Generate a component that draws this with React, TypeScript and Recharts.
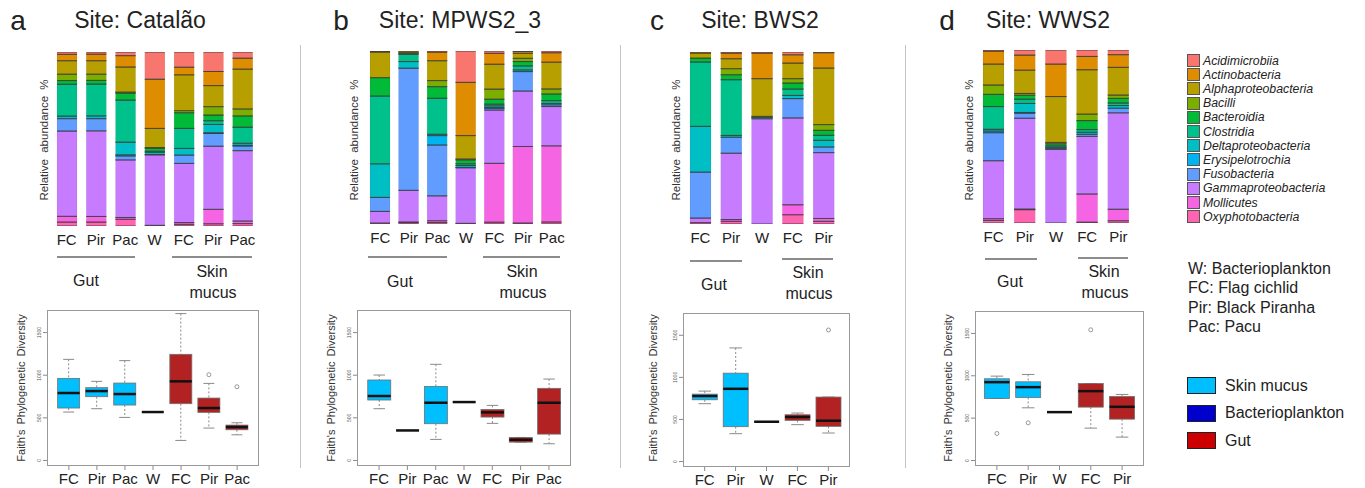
import React from 'react';
import { BarChart, Bar, XAxis, YAxis, ComposedChart } from 'recharts';

const taxa = [
  'Acidimicrobiia', 'Actinobacteria', 'Alphaproteobacteria', 'Bacilli', 'Bacteroidia', 'Clostridia',
  'Deltaproteobacteria', 'Erysipelotrochia', 'Fusobacteria', 'Gammaproteobacteria', 'Mollicutes', 'Oxyphotobacteria',
];
const taxaColors = [
  '#F8766D', '#DE8C00', '#B79F00', '#7CAE00', '#00BA38', '#00C08B',
  '#00BFC4', '#00B4F0', '#619CFF', '#C77CFF', '#F564E3', '#FF64B0',
];

// Site: Catalão
const catalaoGroups = ['FC', 'Pir', 'Pac', 'W', 'FC', 'Pir', 'Pac'];
const catalaoTissue = ['gut', 'gut', 'gut', 'water', 'skin', 'skin', 'skin'];
const catalaoAbundance = [
  [1.3, 3.7, 7.7, 3.7, 2.1, 18.3, 1.5, 0, 7.1, 49.0, 3.3, 2.3],
  [1.2, 3.8, 7.7, 3.6, 2.1, 18.3, 1.6, 0, 7.0, 49.2, 3.2, 2.3],
  [2.1, 6.5, 14.4, 0.6, 4.0, 24.2, 7.3, 0.6, 2.3, 33.1, 1.0, 3.9],
  [15.6, 28.3, 11.0, 0.4, 1.7, 0.6, 1.3, 0, 0.2, 40.5, 0, 0.4],
  [8.7, 4.4, 20.6, 1.2, 9.0, 11.5, 3.8, 0, 4.8, 34.0, 1.0, 1.0],
  [11.2, 8.1, 12.1, 4.8, 3.3, 2.1, 4.8, 0.4, 7.3, 36.3, 8.3, 1.3],
  [3.5, 6.3, 22.9, 4.0, 6.5, 9.2, 1.2, 0.4, 2.7, 40.4, 1.5, 1.4],
];
// [whisker low, Q1, median, Q3, whisker high]
const catalaoFaith = [
  [568, 615, 791, 963, 1186],
  [607, 748, 814, 854, 928],
  [505, 650, 779, 908, 1171],
  [568, 568, 568, 568, 568],
  [235, 666, 928, 1245, 1723],
  [380, 564, 615, 732, 904],
  [301, 360, 392, 415, 442],
];
const catalaoOutliers = [[], [], [], [], [], [1006], [865]];

// Site: MPWS2_3
const mpwsGroups = ['FC', 'Pir', 'Pac', 'W', 'FC', 'Pir', 'Pac'];
const mpwsTissue = ['gut', 'gut', 'gut', 'water', 'skin', 'skin', 'skin'];
const mpwsAbundance = [
  [0.2, 0.4, 14.8, 0, 10.6, 39.2, 19.4, 0, 8.1, 6.7, 0, 0.6],
  [0, 0.6, 0.7, 0, 0.6, 4.2, 3.8, 0, 70.6, 18.3, 0.4, 0.8],
  [0.6, 5.0, 11.5, 3.5, 6.7, 20.8, 0.8, 5.4, 29.4, 14.4, 1.0, 0.9],
  [18.1, 30.8, 13.5, 0.5, 2.3, 1.0, 1.1, 0, 0.2, 32.1, 0, 0.4],
  [1.3, 6.3, 14.4, 5.8, 2.9, 1.0, 1.0, 0.4, 1.0, 30.8, 34.0, 1.1],
  [0.3, 1.0, 2.9, 1.9, 2.5, 2.3, 1.0, 0, 11.2, 32.1, 44.2, 0.6],
  [1.0, 5.4, 15.5, 2.9, 3.9, 1.6, 0.8, 0, 1.0, 22.7, 44.0, 1.2],
];
const mpwsFaith = [
  [607, 709, 756, 944, 1002],
  [352, 352, 352, 352, 352],
  [247, 431, 677, 869, 1128],
  [685, 685, 685, 685, 685],
  [435, 509, 564, 599, 646],
  [215, 215, 243, 270, 270],
  [196, 309, 677, 846, 955],
];
const mpwsOutliers = [[], [], [], [], [], [], []];

// Site: BWS2
const bwsGroups = ['FC', 'Pir', 'W', 'FC', 'Pir'];
const bwsTissue = ['gut', 'gut', 'water', 'skin', 'skin'];
const bwsAbundance = [
  [0, 0.6, 2.9, 0, 2.3, 37.4, 26.6, 0, 26.7, 2.7, 0, 0.8],
  [0.6, 3.3, 5.8, 3.5, 2.9, 32.4, 1.0, 0, 9.3, 38.6, 1.0, 1.6],
  [0.6, 14.9, 21.9, 0, 0.6, 0, 0.8, 0, 0, 61.2, 0, 0],
  [1.6, 4.8, 9.1, 2.5, 3.5, 3.7, 1.9, 0, 11.2, 50.5, 5.8, 5.4],
  [0.4, 8.9, 32.9, 3.3, 2.9, 2.9, 3.9, 0, 3.3, 38.3, 1.6, 1.6],
];
const bwsFaith = [
  [687, 734, 778, 801, 837],
  [331, 414, 864, 1050, 1350],
  [473, 473, 473, 473, 473],
  [438, 489, 529, 556, 576],
  [339, 418, 485, 766, 766],
];
const bwsOutliers = [[], [], [], [], [1563]];

// Site: WWS2
const wwsGroups = ['FC', 'Pir', 'W', 'FC', 'Pir'];
const wwsTissue = ['gut', 'gut', 'water', 'skin', 'skin'];
const wwsAbundance = [
  [0.6, 7.5, 12.1, 5.4, 7.1, 13.1, 1.0, 1.0, 16.2, 33.5, 1.0, 1.5],
  [2.9, 8.7, 13.5, 1.0, 2.3, 2.5, 5.2, 0.4, 2.9, 52.5, 0.4, 7.7],
  [8.1, 18.8, 26.5, 0.8, 1.2, 0.8, 0.6, 0, 0.6, 42.6, 0, 0],
  [3.7, 7.7, 25.6, 3.8, 5.2, 1.5, 1.2, 0, 1.2, 33.3, 16.3, 0.5],
  [2.7, 7.3, 16.0, 1.9, 2.7, 1.5, 1.5, 0, 2.7, 55.7, 6.7, 1.3],
];
const wwsFaith = [
  [732, 732, 925, 965, 996],
  [622, 744, 866, 929, 1016],
  [571, 571, 571, 571, 571],
  [382, 630, 819, 909, 909],
  [276, 488, 634, 756, 780],
];
const wwsOutliers = [[319], [445], [], [1543], []];

const faithTicks = [0, 500, 1000, 1500];
const abbreviations = ['W: Bacterioplankton', 'FC: Flag cichlid', 'Pir: Black Piranha', 'Pac: Pacu'];
const boxLegend = ['Skin mucus', 'Bacterioplankton', 'Gut'];

const boxFill: Record<string, string> = { gut: '#00BFFF', water: '#0000CD', skin: '#B22222' };
const boxLegendColors = ['#00BFFF', '#0000CD', '#CC0000'];
const FONT = '"Liberation Sans", Arial, Helvetica, sans-serif';

const panels = [
  {
    letter: 'a', letterX: 18, title: 'Site: Catalão', titleX: 140,
    groups: catalaoGroups, tissue: catalaoTissue, abundance: catalaoAbundance, faith: catalaoFaith, outliers: catalaoOutliers,
    bars: { left: 52, top: 52, width: 205, height: 174, size: 20 },
    box: { left: 47, top: 310, width: 212, height: 156 },
    relX: 45, faithX: 21,
    gutLine: [57, 135, 256], skinLine: [172, 252, 256], gutText: [86, 281], skinText: [212, 272],
  },
  {
    letter: 'b', letterX: 341, title: 'Site: MPWS2_3', titleX: 460,
    groups: mpwsGroups, tissue: mpwsTissue, abundance: mpwsAbundance, faith: mpwsFaith, outliers: mpwsOutliers,
    bars: { left: 366, top: 51, width: 200, height: 173, size: 20 },
    box: { left: 357, top: 310, width: 214, height: 156 },
    relX: 355, faithX: 331,
    gutLine: [368, 447, 256], skinLine: [483, 560, 256], gutText: [400, 282], skinText: [522, 272],
  },
  {
    letter: 'c', letterX: 657, title: 'Site: BWS2', titleX: 760,
    groups: bwsGroups, tissue: bwsTissue, abundance: bwsAbundance, faith: bwsFaith, outliers: bwsOutliers,
    bars: { left: 685, top: 52, width: 154, height: 172, size: 21 },
    box: { left: 683, top: 313, width: 167, height: 154 },
    relX: 677, faithX: 653,
    gutLine: [690, 742, 260], skinLine: [782, 833, 258], gutText: [714, 285], skinText: [808, 273],
  },
  {
    letter: 'd', letterX: 947, title: 'Site: WWS2', titleX: 1048,
    groups: wwsGroups, tissue: wwsTissue, abundance: wwsAbundance, faith: wwsFaith, outliers: wwsOutliers,
    bars: { left: 978, top: 50, width: 156, height: 173, size: 21 },
    box: { left: 975, top: 311, width: 169, height: 155 },
    relX: 970, faithX: 948,
    gutLine: [985, 1037, 258], skinLine: [1078, 1128, 257], gutText: [1010, 282], skinText: [1104, 272],
  },
];

const Segment = (props: any) => {
  const { x, y, width, height, fill } = props;
  if (!(height > 0)) return <g />;
  return (
    <g>
      <rect x={x} y={y} width={width} height={height} fill={fill} stroke="rgba(0,0,0,0.12)" strokeWidth={0.5} />
      <line x1={x} x2={x + width} y1={y} y2={y} stroke="#3a3a3a" strokeWidth={0.8} />
      <line x1={x} x2={x + width} y1={y + height} y2={y + height} stroke="#3a3a3a" strokeWidth={0.8} />
    </g>
  );
};

const BoxShape = (props: any) => {
  const { x, y, width, height, payload } = props;
  const [lo, q1, med, q3, hi] = payload.stats as number[];
  const top = Math.min(y, y + height);
  const bottom = Math.max(y, y + height);
  const per = (bottom - top) / hi;
  const py = (v: number) => bottom - v * per;
  const cx = x + width / 2;
  const cap = width / 4;
  return (
    <g>
      <line x1={cx} x2={cx} y1={py(hi)} y2={py(q3)} stroke="#8a8a8a" strokeDasharray="2 2" />
      <line x1={cx} x2={cx} y1={py(q1)} y2={py(lo)} stroke="#8a8a8a" strokeDasharray="2 2" />
      <line x1={cx - cap} x2={cx + cap} y1={py(hi)} y2={py(hi)} stroke="#8a8a8a" />
      <line x1={cx - cap} x2={cx + cap} y1={py(lo)} y2={py(lo)} stroke="#8a8a8a" />
      {q3 > q1 && (
        <rect x={x} y={py(q3)} width={width} height={py(q1) - py(q3)} fill={payload.fill} stroke="#707070" strokeWidth={0.8} />
      )}
      <line x1={x} x2={x + width} y1={py(med)} y2={py(med)} stroke="#111" strokeWidth={2.5} />
      {(payload.out as number[]).map((v, i) => (
        <circle key={i} cx={cx} cy={py(v)} r={2} fill="none" stroke="#808080" strokeWidth={0.8} />
      ))}
    </g>
  );
};

const CatTick = (props: any) => {
  const { x, y, payload, labels, dy } = props;
  return (
    <text x={x} y={y} dy={dy} textAnchor="middle" fontSize={15} fill="#222" fontFamily={FONT}>
      {labels[Number(payload.value)]}
    </text>
  );
};

const FaithTick = (props: any) => {
  const { x, y, payload } = props;
  return (
    <text x={x} y={y} transform={`rotate(-90 ${x} ${y})`} textAnchor="middle" fontSize={5} fill="#555" fontFamily={FONT}>
      {payload.value}
    </text>
  );
};

const Centered = ({ x, y, size, children, rotate, style }: any) => (
  <div
    style={{
      position: 'absolute', left: x, top: y, whiteSpace: 'nowrap', fontSize: size, color: '#222', lineHeight: 1,
      transform: `translate(-50%, -50%)${rotate ? ' rotate(-90deg)' : ''}`, ...style,
    }}
  >
    {children}
  </div>
);

const HLine = ({ x1, x2, y }: any) => (
  <div style={{ position: 'absolute', left: x1, top: y, width: x2 - x1, height: 1.5, background: '#8c8c8c' }} />
);

function Panel({ p }: { p: (typeof panels)[number] }) {
  const rows = p.abundance.map((vals, i) => {
    const r: Record<string, number | string> = { k: String(i) };
    taxa.forEach((t, j) => { r[t] = vals[j]; });
    return r;
  });
  const boxRows = p.faith.map((s, i) => ({
    k: String(i), stats: s, hi: s[4], out: p.outliers[i], fill: boxFill[p.tissue[i]],
  }));
  const stackOrder = taxa.map((t, j) => ({ t, c: taxaColors[j] })).reverse();
  const pad = p.box.width * 0.037;
  return (
    <>
      <Centered x={p.letterX} y={21} size={28}>{p.letter}</Centered>
      <Centered x={p.titleX} y={20} size={23}>{p.title}</Centered>
      <Centered x={p.relX} y={140} size={11.5} rotate style={{ wordSpacing: 3, color: '#333' }}>Relative abundance %</Centered>
      <div style={{ position: 'absolute', left: p.bars.left, top: p.bars.top }}>
        <BarChart
          width={p.bars.width}
          height={p.bars.height + 30}
          data={rows}
          margin={{ top: 0, right: 0, bottom: 0, left: 0 }}
          barSize={p.bars.size}
        >
          <XAxis
            dataKey="k"
            height={30}
            axisLine={false}
            tickLine={false}
            interval={0}
            tick={(tp: any) => <CatTick {...tp} labels={p.groups} dy={11} />}
          />
          <YAxis hide domain={[0, 100]} allowDataOverflow />
          {stackOrder.map(({ t, c }) => (
            <Bar key={t} dataKey={t} stackId="s" fill={c} shape={Segment} isAnimationActive={false} />
          ))}
        </BarChart>
      </div>
      <HLine x1={p.gutLine[0]} x2={p.gutLine[1]} y={p.gutLine[2]} />
      <HLine x1={p.skinLine[0]} x2={p.skinLine[1]} y={p.skinLine[2]} />
      <Centered x={p.gutText[0]} y={p.gutText[1]} size={16}>Gut</Centered>
      <Centered x={p.skinText[0]} y={p.skinText[1]} size={16}>Skin</Centered>
      <Centered x={p.skinText[0] + 1} y={p.skinText[1] + 21} size={16}>mucus</Centered>
      <Centered x={p.faithX} y={388} size={11} rotate style={{ wordSpacing: 2, color: '#333' }}>Faith's Phylogenetic Diversity</Centered>
      <div style={{ position: 'absolute', left: p.box.left - 40, top: p.box.top }}>
        <ComposedChart
          width={p.box.width + 40}
          height={p.box.height + 22}
          data={boxRows}
          margin={{ top: 0, right: 0, bottom: 0, left: 0 }}
          barCategoryGap="10%"
        >
          <XAxis
            dataKey="k"
            height={22}
            axisLine={false}
            tickSize={4}
            tickLine={{ stroke: '#8a8a8a' }}
            padding={{ left: pad, right: pad }}
            interval={0}
            tick={(tp: any) => <CatTick {...tp} labels={p.groups} dy={12} />}
          />
          <YAxis
            width={40}
            domain={[-65, 1765]}
            ticks={faithTicks}
            allowDataOverflow
            axisLine={false}
            tickSize={4}
            tickMargin={2}
            tickLine={{ stroke: '#8a8a8a' }}
            tick={FaithTick}
          />
          <Bar dataKey={(d: any) => [0, d.hi]} shape={BoxShape} isAnimationActive={false} />
        </ComposedChart>
        <div
          style={{
            position: 'absolute', left: 40, top: 0, width: p.box.width, height: p.box.height,
            border: '1px solid #9a9a9a', boxSizing: 'border-box', pointerEvents: 'none',
          }}
        />
      </div>
    </>
  );
}

export default function App() {
  return (
    <div
      style={{
        position: 'absolute', left: 0, top: 0, width: 1365, height: 488, background: '#fff',
        fontFamily: FONT, overflow: 'hidden',
      }}
    >
      {[300, 620, 905].map((x) => (
        <div key={x} style={{ position: 'absolute', left: x, top: 45, width: 1, height: 423, background: '#c4c4c4' }} />
      ))}
      {panels.map((p) => <Panel key={p.letter} p={p} />)}

      {taxa.map((t, i) => (
        <div key={t} style={{ position: 'absolute', left: 1187, top: 54 + i * 14.2, height: 13, display: 'flex', alignItems: 'center' }}>
          <div style={{ width: 11, height: 11, background: taxaColors[i], border: '1px solid #555' }} />
          <span style={{ marginLeft: 3, fontStyle: 'italic', fontSize: 12.3, color: '#222' }}>{t}</span>
        </div>
      ))}

      {abbreviations.map((t, i) => (
        <div key={t} style={{ position: 'absolute', left: 1188, top: 261 + i * 19.4, fontSize: 16, color: '#222', lineHeight: 1 }}>{t}</div>
      ))}

      {boxLegend.map((t, i) => (
        <div key={t} style={{ position: 'absolute', left: 1187, top: 377 + i * 27.5, height: 17, display: 'flex', alignItems: 'center' }}>
          <div style={{ width: 27, height: 15, background: boxLegendColors[i], border: '1px solid #222' }} />
          <span style={{ marginLeft: 9, fontSize: 16, color: '#222' }}>{t}</span>
        </div>
      ))}
    </div>
  );
}
